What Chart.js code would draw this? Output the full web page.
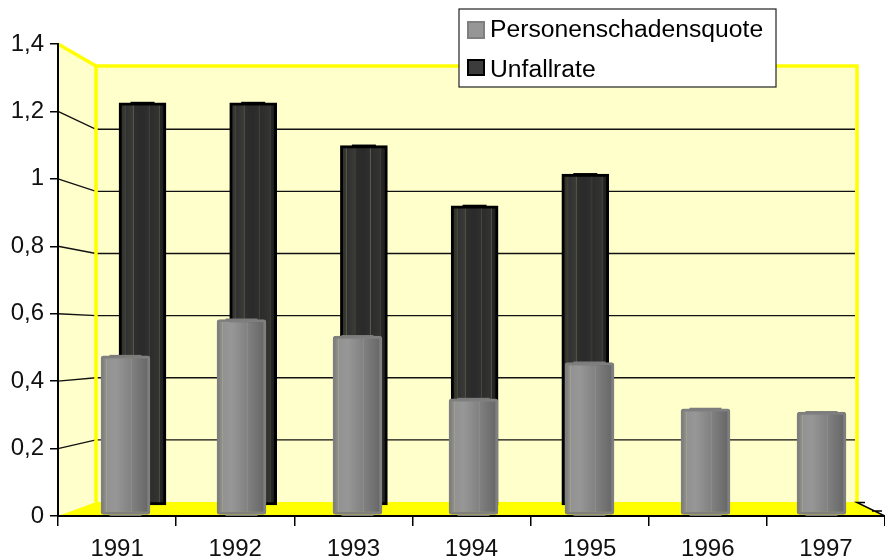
<!DOCTYPE html>
<html>
<head>
<meta charset="utf-8">
<style>
  html, body { margin: 0; padding: 0; background: #fff; }
</style>
<script src="https://cdn.jsdelivr.net/npm/chart.js@4"></script>
</head>
<body>
<canvas id="myChart" width="885" height="560"></canvas>
<script>
var years = ['1991', '1992', '1993', '1994', '1995', '1996', '1997'];
var personenschadensquote = [0.48, 0.59, 0.54, 0.35, 0.46, 0.32, 0.31];
var unfallrate = [1.27, 1.27, 1.135, 0.945, 1.045, null, null];
var yTickValues = [0, 0.2, 0.4, 0.6, 0.8, 1, 1.2, 1.4];
var yTickLabels = ['0', '0,2', '0,4', '0,6', '0,8', '1', '1,2', '1,4'];

var FONT = '"Liberation Sans", Arial, sans-serif';
var area = {left: 58, right: 885, top: 44, bottom: 516};
var wall = {left: 96, right: 857, top: 66, bottom: 502};

// the three depth planes of the fake 3d box share one chart area,
// so each gets a scale range that lands on its own pixels
function yRange(zeroPx, unitPx) {
  return {min: (zeroPx - area.bottom) / unitPx, max: (zeroPx - area.top) / unitPx};
}
function xRange(firstPx, stepPx) {
  return {min: 1991 + (area.left - firstPx) / stepPx, max: 1991 + (area.right - firstPx) / stepPx};
}

var hidden = {display: false, offset: false, grid: {offset: false}};

function cylinder(context, fallback, stops, width) {
  if (context.type !== 'data') return fallback;
  var chart = context.chart;
  var xScale = chart.scales[context.dataset.xAxisID];
  var cx = xScale.getPixelForValue(+chart.data.labels[context.dataIndex]);
  if (!isFinite(cx)) return fallback;   // first pass, scales not placed yet
  var g = chart.ctx.createLinearGradient(cx - width / 2, 0, cx + width / 2, 0);
  stops.forEach(function (s) { g.addColorStop(s[0], s[1]); });
  return g;
}

var greyStops = [[0, '#858585'], [0.1, '#8c8c88'], [0.115, '#a4a48e'], [0.13, '#929292'],
  [0.3, '#979797'], [0.6, '#828282'], [0.615, '#96968a'], [0.63, '#808080'], [1, '#646464']];
var darkStops = [[0, '#262626'], [0.12, '#3a3a34'], [0.13, '#55554a'], [0.145, '#303030'], [0.3, '#3a3a36'], [0.31, '#5a5a4c'], [0.325, '#2e2e2e'],
  [0.5, '#2a2a2a'], [0.63, '#303030'], [0.64, '#5c5c4e'], [0.655, '#2c2c2c'], [0.85, '#333330'], [0.86, '#50504a'], [0.875, '#262626'], [1, '#1a1a1a']];

var boxPlugin = {
  id: 'box',
  beforeDraw: function (chart) {
    var c = chart.ctx, s = chart.scales;
    c.save();
    // walls
    c.fillStyle = '#FFFFCC';
    c.beginPath();
    c.moveTo(area.left, area.top);
    c.lineTo(wall.left, wall.top);
    c.lineTo(wall.right, wall.top);
    c.lineTo(wall.right, wall.bottom);
    c.lineTo(wall.left, wall.bottom);
    c.lineTo(area.left, area.bottom);
    c.closePath();
    c.fill();
    // floor
    c.fillStyle = '#FFFF00';
    c.beginPath();
    c.moveTo(area.left, area.bottom);
    c.lineTo(wall.left, wall.bottom);
    c.lineTo(wall.right, wall.bottom);
    c.lineTo(area.right, area.bottom);
    c.closePath();
    c.fill();
    // grid lines, bent at the wall corner
    c.strokeStyle = '#111';
    c.lineWidth = 1.4;
    yTickValues.slice(1, -1).forEach(function (v) {
      var front = s.y.getPixelForValue(v), back = s.yWall.getPixelForValue(v);
      c.beginPath();
      c.moveTo(area.left, front);
      c.lineTo(wall.left, back);
      c.lineTo(wall.right - 2, back);
      c.stroke();
    });
    // yellow frame
    c.strokeStyle = '#FFFF00';
    c.lineWidth = 3.5;
    c.beginPath();
    c.moveTo(area.left, area.top);
    c.lineTo(wall.left, wall.top);
    c.lineTo(wall.right, wall.top);
    c.lineTo(wall.right, wall.bottom);
    c.moveTo(wall.left, wall.top);
    c.lineTo(wall.left, wall.bottom);
    c.stroke();
    // floor edge on the right
    c.strokeStyle = '#000';
    c.lineWidth = 1.5;
    c.beginPath();
    c.moveTo(wall.right + 8, wall.bottom + 0.5);
    c.lineTo(wall.right, wall.bottom + 0.5);
    c.lineTo(area.right, area.bottom);
    c.moveTo(872, 511);
    c.lineTo(882, 511);
    c.stroke();
    c.restore();
  },
  afterDatasetsDraw: function (chart) {
    var c = chart.ctx;
    c.save();
    // caps of the cylinders
    chart.getDatasetMeta(1).data.forEach(function (bar, i) {
      if (unfallrate[i] === null) return;
      c.fillStyle = '#000';
      c.fillRect(bar.x - 12, bar.y - 1, 24, 2);
    });
    chart.getDatasetMeta(0).data.forEach(function (bar) {
      c.fillStyle = '#7c7c7c';
      c.fillRect(bar.x - 16, bar.y - 1, 32, 2);
      c.fillRect(bar.x - 16, bar.base, 32, 1.5);
    });
    c.restore();
  },
  afterDraw: function (chart) {
    var c = chart.ctx, d = chart.data.datasets;
    c.save();
    c.fillStyle = '#fff';
    c.strokeStyle = '#222';
    c.lineWidth = 1.2;
    c.fillRect(459, 9, 317, 78);
    c.strokeRect(459, 9, 317, 78);
    c.lineWidth = 2;
    c.strokeStyle = '#7f7f7f';
    c.fillStyle = '#969696';
    c.fillRect(468, 22, 16, 16);
    c.strokeRect(468, 22, 16, 16);
    c.strokeStyle = '#000';
    c.fillStyle = '#3c3c3c';
    c.fillRect(468, 60, 16, 15);
    c.strokeRect(468, 60, 16, 15);
    c.fillStyle = '#000';
    c.font = '24.7px ' + FONT;
    c.textBaseline = 'alphabetic';
    c.fillText(d[0].label, 490, 37);
    c.fillText(d[1].label, 490, 77);
    c.restore();
  }
};

var ctx = document.getElementById('myChart').getContext('2d');
var myChart = new Chart(ctx, {
  type: 'bar',
  plugins: [boxPlugin],
  data: {
    labels: years,
    datasets: [{
      label: 'Personenschadensquote',
      data: personenschadensquote,
      xAxisID: 'xFront',
      yAxisID: 'yFront',
      barThickness: 49,
      grouped: false,
      borderWidth: 3,
      borderRadius: 3,
      borderSkipped: false,
      borderColor: '#7f7f7f',
      backgroundColor: function (context) { return cylinder(context, '#8c8c8c', greyStops, 49); }
    }, {
      label: 'Unfallrate',
      data: unfallrate,
      xAxisID: 'xBack',
      yAxisID: 'yBack',
      barThickness: 47,
      grouped: false,
      borderWidth: 3,
      borderSkipped: false,
      borderColor: '#000',
      backgroundColor: function (context) { return cylinder(context, '#333333', darkStops, 47); }
    }]
  },
  options: {
    responsive: false,
    animation: false,
    layout: {padding: {top: area.top, right: 0, left: 0, bottom: 0}},
    plugins: {legend: {display: false}, tooltip: {enabled: false}},
    scales: {
      x: {
        type: 'category',
        offset: true,
        grid: {offset: true, drawOnChartArea: false, color: '#000', lineWidth: 1.5, tickLength: 10},
        border: {color: '#000', width: 2},
        ticks: {color: '#111', font: {family: FONT, size: 24}, padding: 9, maxRotation: 0, autoSkip: false},
        afterFit: function (s) { s.height = 560 - area.bottom; }
      },
      y: {
        min: 0,
        max: 1.4,
        grid: {drawOnChartArea: false, color: '#000', lineWidth: 1.5, tickLength: 8},
        border: {color: '#000', width: 2},
        ticks: {
          stepSize: 0.2,
          color: '#111',
          font: {family: FONT, size: 24},
          padding: 6,
          callback: function (v, i) { return yTickLabels[i]; }
        },
        afterFit: function (s) { s.width = area.left; }
      },
      yWall: Object.assign({axis: 'y', type: 'linear'}, hidden, yRange(502, 310.6)),
      xFront: Object.assign({axis: 'x', type: 'linear'}, hidden, xRange(125.5, 116)),
      yFront: Object.assign({axis: 'y', type: 'linear'}, hidden, yRange(514.5, 330.5)),
      xBack: Object.assign({axis: 'x', type: 'linear'}, hidden, xRange(142.5, 110.7)),
      yBack: Object.assign({axis: 'y', type: 'linear'}, hidden, yRange(505, 316.7))
    }
  }
});
</script>
</body>
</html>
